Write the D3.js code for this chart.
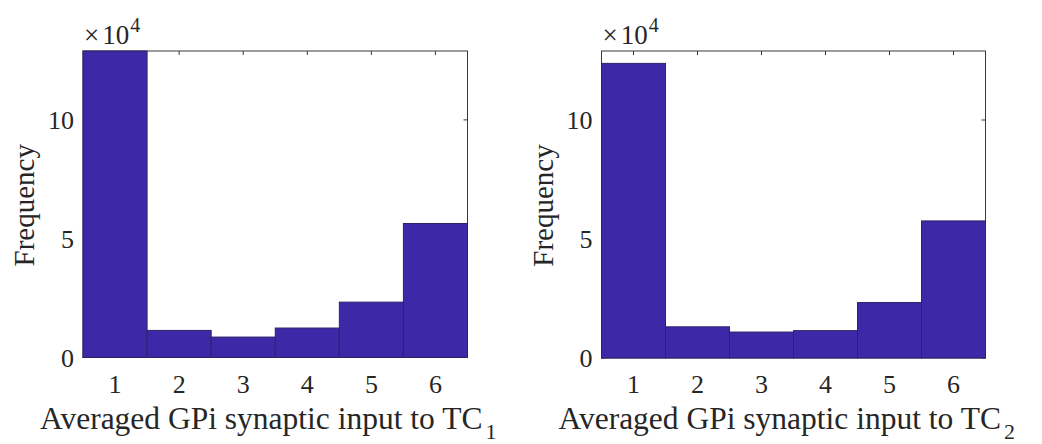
<!DOCTYPE html>
<html>
<head>
<meta charset="utf-8">
<script src="https://cdn.jsdelivr.net/npm/d3@7/dist/d3.min.js"></script>
<style>
  html, body { margin: 0; padding: 0; background: #fff; }
  svg { display: block; }
</style>
</head>
<body>
<svg id="chart" width="1042" height="444"></svg>
<script>
// Histogram bins (bin centres) and counts for the two thalamocortical cells
const binCenters = [1, 2, 3, 4, 5, 6];
const tc1Counts = [129000, 11400, 8600, 12400, 23300, 56400];
const tc2Counts = [123800, 13100, 10900, 11500, 23300, 57600];
const xTickValues = [1, 2, 3, 4, 5, 6];
const yTickValues = [0, 50000, 100000];
const yMax = 129000;
const yExponent = 4;

const panels = [
  { counts: tc1Counts, sub: "1", left: 83, right: 467.5, top: 51, bottom: 357.5 },
  { counts: tc2Counts, sub: "2", left: 601.5, right: 985.5, top: 51, bottom: 358 }
];

const FONT = "'Liberation Serif', Tinos, 'Times New Roman', Times, 'DejaVu Serif', serif";
const textColor = "#262626";
const axisColor = "#3a3a3a";
const tickLen = 4;

const svg = d3.select("#chart");

function label(g) {
  return g.append("text").attr("font-family", FONT).attr("fill", textColor);
}

panels.forEach(p => {
  const x = d3.scaleLinear().domain([0.5, 6.5]).range([p.left, p.right]);
  const y = d3.scaleLinear().domain([0, yMax]).range([p.bottom, p.top]);
  const g = svg.append("g");

  // axes box
  g.append("rect")
    .attr("x", p.left).attr("y", p.top)
    .attr("width", p.right - p.left).attr("height", p.bottom - p.top)
    .attr("fill", "none").attr("stroke", axisColor).attr("stroke-width", 1);

  // inward ticks on all four sides
  xTickValues.forEach(v => {
    g.append("line").attr("x1", x(v)).attr("x2", x(v))
      .attr("y1", p.top).attr("y2", p.top + tickLen)
      .attr("stroke", axisColor);
    g.append("line").attr("x1", x(v)).attr("x2", x(v))
      .attr("y1", p.bottom).attr("y2", p.bottom - tickLen)
      .attr("stroke", axisColor);
  });
  yTickValues.forEach(v => {
    g.append("line").attr("x1", p.right).attr("x2", p.right - tickLen)
      .attr("y1", y(v)).attr("y2", y(v)).attr("stroke", axisColor);
    g.append("line").attr("x1", p.left).attr("x2", p.left + tickLen)
      .attr("y1", y(v)).attr("y2", y(v)).attr("stroke", axisColor);
  });

  // histogram bars
  g.selectAll("rect.bar")
    .data(binCenters.map((c, i) => ({ c, v: p.counts[i] })))
    .enter().append("rect")
    .attr("class", "bar")
    .attr("x", d => x(d.c - 0.5))
    .attr("width", d => x(d.c + 0.5) - x(d.c - 0.5))
    .attr("y", d => y(d.v))
    .attr("height", d => y(0) - y(d.v))
    .attr("fill", "#3d28a8")
    .attr("stroke", "#2c2468")
    .attr("stroke-width", 1);

  // x tick labels
  xTickValues.forEach(v => {
    label(g).attr("x", x(v)).attr("y", p.bottom + 35)
      .attr("text-anchor", "middle").attr("font-size", 26)
      .text(v);
  });
  // y tick labels (in units of 10^4)
  yTickValues.forEach(v => {
    label(g).attr("x", p.left - 9).attr("y", y(v) + 9)
      .attr("text-anchor", "end").attr("font-size", 26)
      .text(v / Math.pow(10, yExponent));
  });

  // exponent multiplier
  const mult = label(g).attr("x", p.left + 1).attr("y", p.top - 7)
    .attr("font-size", 27);
  mult.append("tspan").text("\u00d7");
  mult.append("tspan").attr("dx", 3).text("10");
  mult.append("tspan").attr("font-size", 20).attr("dy", -12).attr("dx", 1).text(yExponent);

  // y label
  label(g)
    .attr("transform", `translate(${p.left - 49},${(p.top + p.bottom) / 2 + 1}) rotate(-90)`)
    .attr("text-anchor", "middle").attr("font-size", 29)
    .text("Frequency");

  // x label with subscript
  const xl = label(g)
    .attr("x", p.left - 43).attr("y", p.bottom + 71)
    .attr("font-size", 31.5);
  xl.append("tspan").text("Averaged GPi synaptic input to TC");
  xl.append("tspan").attr("font-size", 22).attr("dy", 10).attr("dx", 3).text(p.sub);
});
</script>
</body>
</html>
